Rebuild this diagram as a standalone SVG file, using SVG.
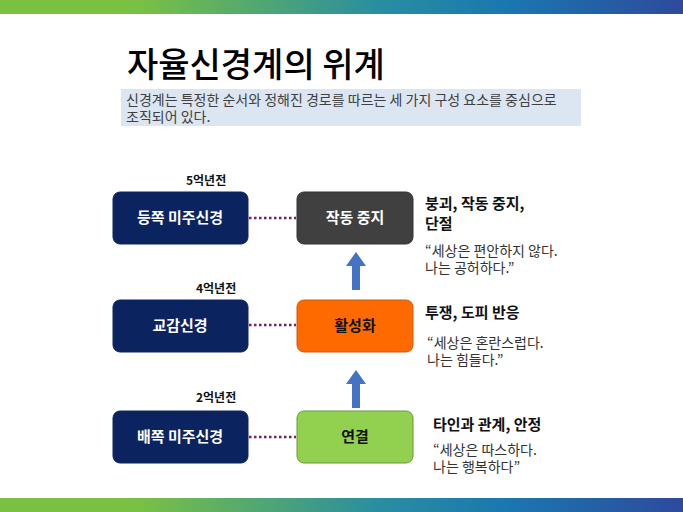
<svg xmlns="http://www.w3.org/2000/svg" width="683" height="512" viewBox="0 0 683 512">
<defs>
<linearGradient id="bar" x1="0" x2="1"><stop offset="0" stop-color="#7ac143"/><stop offset="0.2" stop-color="#7ac143"/><stop offset="0.55" stop-color="#2a8ea0"/><stop offset="0.75" stop-color="#1a76b0"/><stop offset="1" stop-color="#2e4a9c"/></linearGradient>
<style>
text{font-family:"Noto Sans CJK KR","Noto Sans",sans-serif}
.l rect{fill:#0b2460;stroke:#0b2460}
.c{fill:#fff;font-size:15px;font-weight:bold;text-anchor:middle}
.h{font-size:15px;font-weight:bold;fill:#111}
.q{font-size:14px;fill:#333}
.y{font-size:12px;font-weight:bold;fill:#111}
.dot{stroke:#7a1f5c;stroke-width:2.5;stroke-dasharray:2.5 2.5}
</style>
</defs>
<rect width="683" height="512" fill="#fff"/>
<rect width="683" height="14" fill="url(#bar)"/>
<rect y="498" width="683" height="14" fill="url(#bar)"/>
<text x="127" y="77" font-size="34" font-weight="500" fill="#000">자율신경계의 위계</text>
<rect x="121" y="89" width="460" height="37" fill="#dce6f2"/>
<text x="126" y="105" font-size="14" fill="#404040">신경계는 특정한 순서와 정해진 경로를 따르는 세 가지 구성 요소를 중심으로</text>
<text x="126" y="122" font-size="14" fill="#404040">조직되어 있다.</text>
<g id="connectors">
<line class="dot" x1="249" y1="218" x2="296" y2="218"/>
<line class="dot" x1="249" y1="325" x2="296" y2="325"/>
<line class="dot" x1="249" y1="437" x2="296" y2="437"/>
<polygon points="352,290 360,290 360,266 366,266 356,252 346,266 352,266" fill="#4472c4"/>
<polygon points="352,408 360,408 360,384 366,384 356,370 346,384 352,384" fill="#4472c4"/>
</g>
<g id="y5"><text class="y" x="186" y="185">5억년전</text></g>
<g id="y4"><text class="y" x="196" y="293">4억년전</text></g>
<g id="y2"><text class="y" x="196" y="402">2억년전</text></g>
<g id="n1" class="l"><rect x="113" y="192" width="135" height="52" rx="7"/><text class="c" x="180" y="223">등쪽 미주신경</text></g>
<g id="n2" class="l"><rect x="113" y="300" width="135" height="52" rx="7"/><text class="c" x="180" y="331">교감신경</text></g>
<g id="n3" class="l"><rect x="113" y="411" width="135" height="52" rx="7"/><text class="c" x="180" y="442">배쪽 미주신경</text></g>
<g id="m1"><rect x="297" y="192" width="116" height="52" rx="7" fill="#404040" stroke="#333"/><text class="c" x="355" y="223">작동 중지</text></g>
<g id="m2"><rect x="297" y="300" width="116" height="52" rx="7" fill="#ff6a00" stroke="#c55a11"/><text class="c" x="355" y="331" style="fill:#111">활성화</text></g>
<g id="m3"><rect x="297" y="411" width="116" height="52" rx="7" fill="#92d050" stroke="#6a9a3a"/><text class="c" x="355" y="442" style="fill:#111">연결</text></g>
<g id="t1"><text class="h" x="425" y="209">붕괴, 작동 중지,</text><text class="h" x="425" y="229">단절</text>
<text class="q" x="425" y="256">“세상은 편안하지 않다.</text><text class="q" x="425" y="273">나는 공허하다.”</text></g>
<g id="t2"><text class="h" x="425" y="318">투쟁, 도피 반응</text>
<text class="q" x="427" y="348">“세상은 혼란스럽다.</text><text class="q" x="427" y="365">나는 힘들다.”</text></g>
<g id="t3"><text class="h" x="433" y="430">타인과 관계, 안정</text>
<text class="q" x="433" y="455">“세상은 따스하다.</text><text class="q" x="433" y="472">나는 행복하다”</text></g>
</svg>
